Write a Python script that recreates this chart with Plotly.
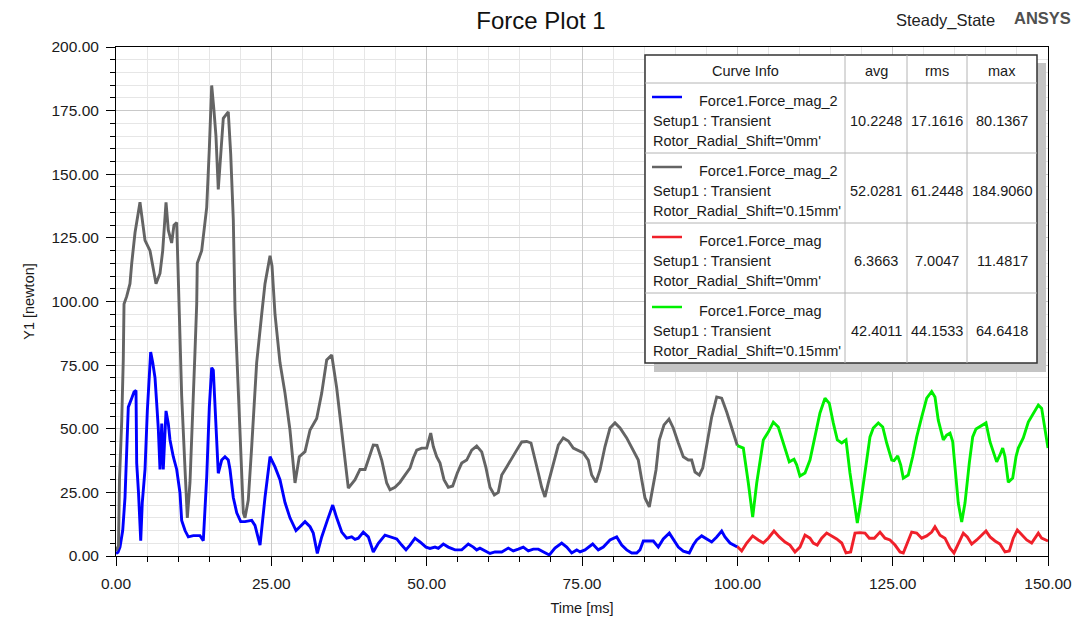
import plotly.graph_objects as go

# ---------------- data ----------------
# Force1.Force_mag_2, Rotor_Radial_Shift='0mm'
t_mag2_0mm = [0.00, 0.32, 0.64, 1.08, 1.45, 1.72, 1.98, 2.53, 2.90, 3.22, 3.33, 3.62, 3.98, 4.23, 4.67,
              5.04, 5.36, 5.58, 5.91, 6.28, 6.55, 6.81, 7.08, 7.36, 7.61, 8.05, 8.42, 8.69, 9.22, 9.77,
              10.30, 10.57, 11.11, 11.64, 12.44, 13.52, 14.05, 14.60, 15.02, 15.40, 15.66, 16.09, 16.34,
              16.46, 17.01, 17.54, 18.07, 18.35, 18.88, 19.43, 20.07, 20.76, 21.84, 22.37, 23.18, 23.98,
              24.79, 25.59, 26.39, 27.20, 28.00, 28.97, 29.61, 30.42, 31.23, 31.75, 32.40, 33.11, 34.01,
              34.88, 35.52, 36.33, 37.13, 37.93, 38.47, 39.00, 39.80, 40.61, 41.41, 42.22, 43.29, 44.10,
              45.18, 45.98, 46.67, 47.32, 48.12, 48.93, 49.89, 50.54, 51.34, 51.87, 52.68, 53.48, 54.56,
              55.64, 56.70, 57.51, 58.05, 58.58, 59.39, 60.19, 61.00, 62.08, 63.14, 63.94, 64.75, 65.55,
              66.36, 67.16, 67.97, 68.77, 69.74, 70.65, 71.73, 72.54, 73.34, 74.15, 74.68, 75.48, 76.72,
              77.62, 78.43, 79.51, 80.58, 81.39, 82.19, 83.00, 83.80, 84.33, 84.87, 85.67, 86.48, 87.28,
              88.08, 89.05, 89.69, 90.50, 91.30, 92.27, 92.91, 93.46, 94.26, 95.07, 95.87, 96.68, 97.48,
              98.01, 98.82, 100.00]
f_mag2_0mm = [1.0, 1.5, 3.5, 10.0, 23.0, 39.0, 58.5, 62.0, 64.5, 65.0, 36.5, 25.0, 6.0, 21.0, 34.0,
              57.0, 69.0, 80.1, 76.0, 70.0, 60.0, 50.0, 34.0, 52.0, 34.0, 57.0, 52.0, 45.6, 39.0, 34.0,
              24.7, 14.0, 10.0, 7.5, 8.0, 8.0, 6.0, 31.0, 58.5, 74.0, 73.0, 53.0, 40.0,
              32.5, 37.7, 39.0, 37.7, 34.0, 23.0, 17.0, 13.5, 13.5, 14.0, 12.0, 4.3, 23.0,
              39.0, 35.0, 30.0, 21.0, 15.0, 10.0, 11.5, 13.5, 11.5, 9.0, 1.0, 7.5, 14.0,
              20.0, 15.0, 9.4, 7.0, 7.5, 6.5, 7.0, 9.4, 7.5, 1.6, 5.0, 8.2, 7.5,
              6.7, 4.3, 2.4, 4.3, 7.0, 5.5, 3.5, 3.0, 3.5, 3.0, 4.7, 3.5, 2.4,
              2.4, 4.7, 3.5, 2.4, 3.1, 2.0, 1.0, 1.6, 1.6, 3.1, 2.0, 2.7, 3.5,
              2.0, 2.7, 2.7, 1.6, 0.4, 3.1, 5.1, 3.5, 1.2, 2.4, 1.6, 2.4, 4.7,
              2.4, 3.5, 6.3, 7.5, 4.3, 2.4, 1.2, 1.2, 2.4, 5.9, 5.9, 5.9, 3.5,
              6.7, 9.0, 6.7, 3.5, 1.9, 1.2, 4.3, 6.3, 7.9, 6.7, 5.5, 7.5, 9.8,
              7.5, 5.1, 3.5]

# Force1.Force_mag_2, Rotor_Radial_Shift='0.15mm'
t_mag2_015mm = [0.00, 0.40, 0.56, 0.92, 1.17, 1.29, 1.72, 2.25, 2.53, 3.06, 3.86, 4.14, 4.67, 5.47, 6.44,
                7.08, 7.52, 8.05, 8.42, 8.96, 9.33, 9.77, 10.03, 10.30, 10.57, 11.11, 11.48, 11.91, 12.34,
                12.71, 12.99, 13.08, 13.79, 14.60, 15.02, 15.40, 15.77, 16.09, 16.46, 16.85, 17.27, 18.07,
                18.46, 18.88, 19.15, 19.43, 19.96, 20.49, 20.76, 21.29, 21.84, 22.64, 23.45, 23.98, 24.79,
                25.11, 25.59, 26.39, 27.20, 28.00, 28.81, 29.50, 30.42, 31.23, 32.30, 33.11, 33.91, 34.72,
                35.52, 36.33, 37.39, 38.47, 39.27, 40.08, 40.61, 41.41, 42.01, 42.76, 43.57, 44.10, 44.90,
                45.71, 46.51, 47.32, 47.85, 48.40, 49.20, 50.01, 50.65, 51.07, 51.61, 52.15, 52.79, 53.48,
                54.19, 54.93, 55.64, 56.44, 57.25, 58.05, 58.86, 59.55, 60.19, 60.89, 61.53, 62.08, 62.88,
                63.41, 64.49, 65.30, 66.10, 66.79, 67.44, 67.97, 68.51, 69.04, 69.58, 70.38, 71.19, 71.99,
                72.80, 73.60, 74.40, 75.21, 76.01, 76.56, 77.25, 77.90, 78.70, 79.51, 80.31, 81.12, 82.19,
                83.26, 84.06, 84.61, 85.14, 85.83, 86.38, 86.91, 87.44, 88.20, 89.00, 89.69, 90.50, 91.30,
                92.11, 92.65, 93.19, 93.88, 94.43, 95.07, 95.87, 96.68, 97.48, 98.29, 99.09, 100.00]
f_mag2_015mm = [2.0, 4.0, 30.0, 53.0, 77.0, 99.0, 102.0, 107.0, 115.0, 127.0, 139.0, 133.0, 124.0, 120.0, 107.0,
                111.0, 120.0, 139.0, 128.0, 123.0, 130.0, 131.0, 110.0, 86.0, 63.0, 34.0, 15.0, 29.0, 53.0,
                80.0, 99.0, 115.0, 120.0, 137.0, 160.0, 184.9, 175.0, 165.0, 144.0, 158.0, 172.0, 174.5,
                158.0, 132.0, 97.0, 80.0, 47.0, 17.0, 15.0, 22.0, 43.0, 76.0, 95.0, 107.0, 118.0,
                114.0, 95.0, 76.0, 64.0, 49.5, 28.7, 39.0, 41.0, 49.5, 54.0, 64.0, 77.0, 79.0,
                66.0, 48.0, 26.7, 30.0, 34.0, 34.0, 38.0, 43.6, 43.5, 37.7, 28.7, 26.0, 27.0,
                29.0, 31.8, 34.5, 38.5, 41.6, 42.4, 42.4, 48.3, 43.0, 39.0, 36.5, 30.0, 27.0,
                27.5, 32.6, 36.5, 37.7, 41.6, 43.2, 40.9, 34.6, 27.0, 24.0, 25.0, 31.8, 35.0,
                37.0, 41.6, 44.8, 45.0, 44.4, 38.5, 32.6, 27.0, 23.2, 28.7, 36.5, 43.6, 46.4,
                45.2, 42.4, 41.3, 40.5, 37.7, 31.8, 29.0, 33.8, 43.0, 50.3, 52.3, 50.3, 46.4,
                41.6, 37.7, 30.0, 22.8, 19.3, 26.0, 33.8, 45.6, 51.5, 53.8, 50.3, 44.4, 39.0,
                37.7, 37.7, 33.0, 31.8, 34.6, 43.0, 54.6, 62.5, 62.0, 56.6, 50.7, 43.4]

# Force1.Force_mag, Rotor_Radial_Shift='0mm'
t_mag_0mm = [100.00, 100.70, 101.51, 102.47, 103.37, 104.18, 104.98, 105.90, 106.75, 107.67, 108.47,
             109.28, 110.08, 110.89, 111.69, 112.22, 112.86, 113.57, 114.38, 115.18, 115.99, 116.80,
             117.49, 118.24, 118.94, 119.74, 120.55, 121.24, 122.05, 122.96, 123.77, 124.57, 125.38,
             126.18, 126.71, 127.26, 128.06, 128.87, 129.67, 130.48, 131.28, 131.81, 132.62, 133.42,
             134.23, 134.87, 135.56, 136.37, 137.01, 137.72, 138.53, 139.33, 140.02, 140.67, 141.47,
             142.27, 143.08, 143.77, 144.41, 145.06, 145.77, 146.57, 147.37, 147.90, 148.44, 148.98,
             149.52, 150.00]
f_mag_0mm = [3.7, 2.0, 5.1, 7.9, 6.3, 5.1, 7.0, 9.8, 7.5, 5.5, 4.3,
             1.6, 3.5, 8.2, 7.0, 5.1, 4.3, 7.0, 9.0, 7.9, 6.7, 5.1,
             1.2, 1.6, 9.0, 9.2, 9.0, 7.0, 7.0, 9.4, 7.0, 6.3, 4.3,
             1.6, 1.2, 4.5, 9.4, 9.0, 7.0, 7.9, 9.4, 11.48, 8.2, 7.0,
             3.1, 1.2, 5.1, 9.0, 7.5, 4.7, 6.3, 8.2, 9.8, 7.5, 5.9,
             4.7, 1.6, 2.0, 7.0, 10.2, 8.5, 6.3, 5.1, 7.0, 9.0, 7.0,
             6.3, 5.9]

# Force1.Force_mag, Rotor_Radial_Shift='0.15mm'
t_mag_015mm = [100.00, 100.96, 101.77, 102.47, 103.12, 103.92, 104.18, 104.98, 105.79, 106.59, 107.40,
               108.36, 109.12, 109.55, 110.08, 110.89, 111.69, 112.50, 113.30, 114.11, 114.80, 115.44,
               116.09, 116.80, 117.49, 118.13, 118.78, 119.31, 119.85, 120.55, 121.35, 121.88, 122.69,
               123.40, 124.04, 124.85, 125.22, 125.81, 126.29, 126.71, 127.51, 128.22, 128.87, 129.67,
               130.48, 131.28, 131.81, 132.34, 133.15, 133.69, 134.23, 134.66, 135.03, 135.56, 136.11,
               136.64, 137.33, 137.88, 138.41, 139.33, 140.02, 140.67, 141.20, 141.74, 142.27, 142.71,
               143.08, 143.61, 144.32, 144.85, 145.22, 146.02, 146.83, 147.63, 148.44, 148.98, 149.52,
               150.00]
f_mag_015mm = [43.4, 42.4, 28.7, 15.3, 28.7, 41.6, 45.6, 48.7, 52.6, 50.7, 44.4,
               37.0, 38.0, 35.8, 31.4, 32.6, 37.7, 46.8, 56.2, 62.0, 60.0, 52.3,
               45.6, 44.4, 45.6, 32.6, 20.8, 13.0, 20.8, 33.8, 46.8, 50.3, 52.3,
               50.7, 44.4, 37.7, 37.5, 39.3, 35.8, 30.6, 31.8, 39.0, 46.8, 54.6,
               62.0, 64.64, 62.5, 53.4, 45.6, 47.5, 48.3, 45.0, 33.8, 20.8, 13.4,
               20.8, 36.5, 46.8, 49.9, 51.1, 52.3, 44.8, 40.5, 37.0, 39.7, 42.4,
               39.0, 29.0, 30.6, 39.0, 42.4, 46.4, 52.6, 56.2, 59.3, 58.0, 50.3,
               42.4]

# Curve info table
curve_names = ["Force1.Force_mag_2", "Force1.Force_mag_2", "Force1.Force_mag", "Force1.Force_mag"]
curve_setups = ["Setup1 : Transient"] * 4
curve_shifts = ["Rotor_Radial_Shift='0mm'", "Rotor_Radial_Shift='0.15mm'",
                "Rotor_Radial_Shift='0mm'", "Rotor_Radial_Shift='0.15mm'"]
avg_vals = ["10.2248", "52.0281", "6.3663", "42.4011"]
rms_vals = ["17.1616", "61.2448", "7.0047", "44.1533"]
max_vals = ["80.1367", "184.9060", "11.4817", "64.6418"]
curve_colors = ["#0000FF", "#646464", "#F0202A", "#00F000"]

x_ticks = [0, 25, 50, 75, 100, 125, 150]
y_ticks = [0, 25, 50, 75, 100, 125, 150, 175, 200]

# ---------------- layout geometry ----------------
W, H = 1079, 621
M_L, M_R, M_T, M_B = 116, 31, 47, 65
PW = W - M_L - M_R
PH = H - M_T - M_B
FONT = "Liberation Sans, Arial, sans-serif"


def px(x):
    return (x - M_L) / PW


def py(y):
    return (H - M_B - y) / PH


fig = go.Figure()

series = [
    (t_mag2_0mm, f_mag2_0mm, curve_colors[0]),
    (t_mag2_015mm, f_mag2_015mm, curve_colors[1]),
    (t_mag_0mm, f_mag_0mm, curve_colors[2]),
    (t_mag_015mm, f_mag_015mm, curve_colors[3]),
]
for t, f, c in series:
    fig.add_trace(go.Scatter(x=t, y=f, mode="lines", line=dict(color=c, width=2.9),
                             showlegend=False, hoverinfo="skip"))

axis_common = dict(
    showline=True, linecolor="#000000", linewidth=1, mirror=True,
    ticks="outside", ticklen=9, tickcolor="#000000", tickwidth=1,
    ticklabelstandoff=4, automargin=False,
    showgrid=True, gridcolor="#c9c9c9", gridwidth=1.3,
    zeroline=False, tickformat=".2f",
    tickfont=dict(family=FONT, size=15.5, color="#1a1a1a"),
)

fig.update_xaxes(
    range=[0, 150], tickvals=x_ticks,
    minor=dict(dtick=5, ticklen=5, tickcolor="#000000", showgrid=True,
               gridcolor="#e6e6e6", gridwidth=1),
    title=dict(text="Time [ms]", font=dict(family=FONT, size=14.5, color="#1a1a1a"), standoff=12),
    **axis_common,
)
fig.update_yaxes(
    range=[0, 200], tickvals=y_ticks,
    minor=dict(dtick=5, ticklen=5, tickcolor="#000000", showgrid=True,
               gridcolor="#e6e6e6", gridwidth=1),
    title=dict(text="Y1 [newton]", font=dict(family=FONT, size=14.5, color="#1a1a1a"), standoff=13),
    **axis_common,
)

shapes = []
annotations = []

# table shadow and frame
shapes.append(dict(type="rect", xref="paper", yref="paper", x0=px(654), x1=px(1046),
                   y0=py(372), y1=py(63), fillcolor="#c4c4c4", line=dict(width=0), layer="above"))
shapes.append(dict(type="rect", xref="paper", yref="paper", x0=px(645), x1=px(1037),
                   y0=py(363), y1=py(55), fillcolor="#ffffff",
                   line=dict(color="#333333", width=1.5), layer="above"))
for yy in (83, 153, 223, 293):
    shapes.append(dict(type="line", xref="paper", yref="paper", x0=px(645), x1=px(1037),
                       y0=py(yy), y1=py(yy), line=dict(color="#b4b4b4", width=1), layer="above"))
for xx in (845, 907, 967):
    shapes.append(dict(type="line", xref="paper", yref="paper", x0=px(xx), x1=px(xx),
                       y0=py(55), y1=py(363), line=dict(color="#b4b4b4", width=1), layer="above"))

tfont = dict(family=FONT, size=14.5, color="#1a1a1a")
col_centers = [876, 937, 1002]
for label, xc in zip(["Curve Info", "avg", "rms", "max"], [745] + col_centers):
    annotations.append(dict(text=label, x=px(xc), y=py(71), xref="paper", yref="paper",
                            xanchor="center", yanchor="middle", showarrow=False, font=tfont))

for i in range(4):
    y0 = 70 * i
    shapes.append(dict(type="line", xref="paper", yref="paper", x0=px(652), x1=px(682),
                       y0=py(97 + y0), y1=py(97 + y0),
                       line=dict(color=curve_colors[i], width=2.5), layer="above"))
    annotations.append(dict(text=curve_names[i], x=px(697), y=py(101 + y0), xref="paper", yref="paper",
                            xanchor="left", yanchor="middle", showarrow=False, font=tfont))
    annotations.append(dict(text=curve_setups[i], x=px(651), y=py(121 + y0), xref="paper", yref="paper",
                            xanchor="left", yanchor="middle", showarrow=False, font=tfont))
    annotations.append(dict(text=curve_shifts[i], x=px(651), y=py(141 + y0), xref="paper", yref="paper",
                            xanchor="left", yanchor="middle", showarrow=False, font=tfont))
    for val, xc in zip([avg_vals[i], rms_vals[i], max_vals[i]], col_centers):
        annotations.append(dict(text=val, x=px(xc), y=py(121 + y0), xref="paper", yref="paper",
                                xanchor="center", yanchor="middle", showarrow=False, font=tfont))

# header texts
annotations.append(dict(text="Steady_State", x=px(997), y=py(21), xref="paper", yref="paper",
                        xanchor="right", yanchor="middle", showarrow=False,
                        font=dict(family=FONT, size=16.5, color="#222222")))
annotations.append(dict(text="<b>ANSYS</b>", x=px(1073), y=py(18), xref="paper", yref="paper",
                        xanchor="right", yanchor="middle", showarrow=False,
                        font=dict(family=FONT, size=16.5, color="#505050")))

fig.update_layout(
    width=W, height=H,
    margin=dict(l=M_L, r=M_R, t=M_T, b=M_B, autoexpand=False),
    paper_bgcolor="#ffffff", plot_bgcolor="#ffffff",
    title=dict(text="Force Plot 1", x=541 / W, xanchor="center", y=1 - 21 / H, yanchor="middle",
               font=dict(family=FONT, size=24, color="#111111")),
    shapes=shapes, annotations=annotations,
)

fig.write_html("out.html")
